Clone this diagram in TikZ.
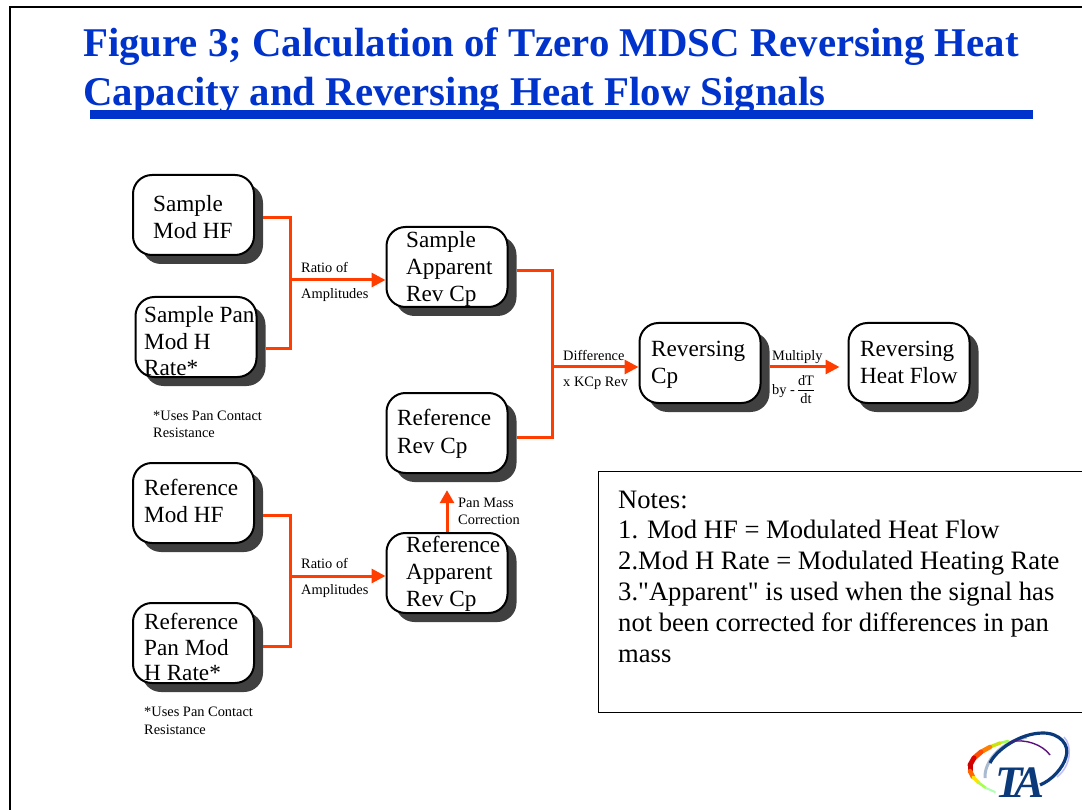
\documentclass[tikz,border=0pt]{standalone}
\usepackage{fontspec}
\setmainfont{Liberation Serif}
\newfontfamily\plainserif{Liberation Serif}
\usetikzlibrary{arrows.meta,calc}
\definecolor{titleblue}{HTML}{0033CC}
\definecolor{conn}{HTML}{FF3D00}
\definecolor{shadowgray}{HTML}{404040}
\definecolor{tablue}{HTML}{0B3A7A}
\tikzset{
  x=1pt,y=-1pt,
  flowbox/.style={draw=black,line width=2pt,fill=white,rounded corners=19pt,minimum width=#1,inner sep=0pt},
  boxshadow/.style={fill=shadowgray,rounded corners=19pt,minimum width=121pt,minimum height=80pt,inner sep=0pt},
  boxtext/.style={anchor=north west,inner sep=0pt,align=left,font=\fontsize{23.2}{26.8}\selectfont},
  smalltext/.style={anchor=base west,inner sep=0pt,font=\fontsize{14.4}{16}\selectfont},
  notestext/.style={anchor=north west,inner sep=0pt,align=left,font=\fontsize{26.6}{30.8}\selectfont\plainserif},
  titletext/.style={anchor=base west,inner sep=0pt,text=titleblue,font=\fontsize{40.8}{48}\selectfont\bfseries},
  wire/.style={draw=conn,line width=3pt,line join=miter},
  wirearrow/.style={wire,-{Triangle[length=14pt,width=14pt]}},
  logoseg/.style={line width=#1,line cap=round},
}
% name, centre x, centre y, text, text x, first baseline y minus strut height
\newcommand{\flowbx}[6]{%
  \node[boxshadow] (#1s) at (#2+9,#3+9) {};
  \node[flowbox=121pt,minimum height=80pt] (#1) at (#2,#3) {};
  \node[boxtext] (#1t) at (#5,#6) {\strut #4};
}
\begin{document}
\begin{tikzpicture}
\clip (0,0) rectangle (1082,810);
\fill[white] (0,0) rectangle (1082,810);
% outer frame
\draw[line width=2pt,black] (1100,7.5) -- (9.5,7.5) -- (9.5,830);
% title
\node[titletext] (t1) at (83,56.5) {Figure 3; Calculation of Tzero MDSC Reversing Heat};
\node[titletext] (t2) at (83,105.5) {Capacity and Reversing Heat Flow Signals};
\fill[titleblue] (90,110) rectangle (1033,119);
% boxes
\flowbx{smh}{193.5}{215}{Sample\\Mod HF}{153}{193}
\flowbx{spm}{196}{337}{Sample Pan\\[-0.7pt]Mod H\\[-0.7pt]Rate*}{144}{304}
\flowbx{sap}{447}{267}{Sample\\[-0.5pt]Apparent\\Rev Cp}{406}{229}
\flowbx{rrc}{447}{433}{Reference\\[1pt]Rev Cp}{397}{407}
\flowbx{rmh}{193.5}{503}{Reference\\Mod HF}{144}{477}
\flowbx{rpm}{193.5}{643}{Reference\\[-1.7pt]Pan Mod\\[-1.7pt]H Rate*}{144}{611}
\flowbx{rap}{447}{573}{Reference\\Apparent\\[-0.5pt]Rev Cp}{406}{534}
\flowbx{rvc}{700}{363}{Reversing\\Cp}{651}{338}
\flowbx{rhf}{909}{363}{Reversing\\Heat Flow}{860}{338}
% junctions
\coordinate (j1) at (290,280);
\coordinate (j2) at (290,576);
\coordinate (j3) at (552,367);
% connectors
\draw[wire] ([yshift=6pt]smhs.east) -| (j1);
\draw[wire] ([yshift=-3pt]spms.east) -| (j1);
\draw[wirearrow] (j1) -- (j1 -| sap.west);
\draw[wire] ([yshift=5pt]saps.east) -| (j3);
\draw[wire] ([yshift=5pt]rrcs.east) -| (j3);
\draw[wirearrow] (j3) -- (j3 -| rvc.west);
\draw[wirearrow] ([yshift=5pt]rvcs.east) -- ([xshift=-8pt,yshift=-4pt]rhf.west);
\draw[wire] ([yshift=-3pt]rmhs.east) -| (j2);
\draw[wire] ([yshift=6pt]rpms.east) -| (j2);
\draw[wirearrow] (j2) -- (j2 -| rap.west);
\draw[wire,-{Triangle[length=13pt,width=14pt]}] (rap.north) -- ($(rrcs.south -| rap.north)+(0,8)$);
% small labels
\node[smalltext] (l1) at (301,273) {Ratio of};
\node[smalltext] (l2) at (301,299) {Amplitudes};
\node[smalltext] (l3) at (301,568) {Ratio of};
\node[smalltext] (l4) at (301,594) {Amplitudes};
\node[smalltext] (l5) at (563,360) {Difference};
\node[smalltext] (l6) at (563,387) {x KCp Rev};
\node[smalltext] (l7) at (772,360) {Multiply};
\node[smalltext] (l8) at (772,394) {by -};
\node[smalltext,anchor=base] (l9) at (806,385) {dT};
\node[smalltext,anchor=base] (l10) at (806,403) {dt};
\coordinate (fa) at (798,390);
\coordinate (fb) at (814,390);
\draw[black,line width=0.6pt] (fa) -- (fb);
\node[smalltext] (l11) at (458,507) {Pan Mass};
\node[smalltext] (l12) at (458,524) {Correction};
\node[smalltext] (l13) at (153,420) {*Uses Pan Contact};
\node[smalltext] (l14) at (153,437) {Resistance};
\node[smalltext] (l15) at (144,716) {*Uses Pan Contact};
\node[smalltext] (l16) at (144,734) {Resistance};
% notes
\draw[black,line width=1pt,fill=white] (598,471) rectangle (1100,712);
\node[notestext] (notes) at (618,486.4) {\strut Notes:\\1. Mod HF = Modulated Heat Flow\\2.Mod H Rate = Modulated Heating Rate\\3."Apparent" is used when the signal has\\not been corrected for differences in pan\\mass};
% logo: rainbow arc
\draw[logoseg=2.5pt,green!55!yellow!70!white] (1008,741) -- (1000,743);
\draw[logoseg=3.5pt,yellow!80!green] (1000,743) -- (990,747);
\draw[logoseg=4.5pt,orange] (990,747) -- (981,752);
\draw[logoseg=5pt,orange!60!red] (981,752) -- (974,758);
\draw[logoseg=5pt,red!85!black] (974,758) -- (970,765);
\draw[logoseg=5pt,red!80!black] (970,765) -- (970,771);
\draw[logoseg=4.5pt,orange!80!red] (970,771) -- (973,777);
\draw[logoseg=3.5pt,yellow!85!orange] (973,777) -- (979,783);
\draw[logoseg=2.5pt,green!50!yellow!70!white] (979,783) -- (986,788);
\draw[logoseg=2pt,green!30!white] (986,788) -- (995,792);
% logo: inner swoosh
\draw[line width=3pt,tablue!35!white] (985,778) .. controls (984,762) and (1000,742) .. (1027,737);
% logo: blue ring
\draw[line width=1.5pt,blue!25!white] (1064,737) .. controls (1072,745) and (1072,765) .. (1057,777);
\draw[line width=3.2pt,tablue] (990,763) .. controls (996,750) and (1020,733) .. (1043,733) .. controls (1060,733) and (1070,745) .. (1066,757) .. controls (1063,768) and (1052,780) .. (1040,785);
\draw[line width=1.4pt,violet!70!tablue] (1010,742) .. controls (1025,738) and (1043,745) .. (1050,755);
\node[anchor=base,inner sep=0pt,text=tablue,font=\fontsize{45}{48}\selectfont\bfseries\itshape] (logo) at (1020,797) {T\kern-9pt A};
\end{tikzpicture}
\end{document}
